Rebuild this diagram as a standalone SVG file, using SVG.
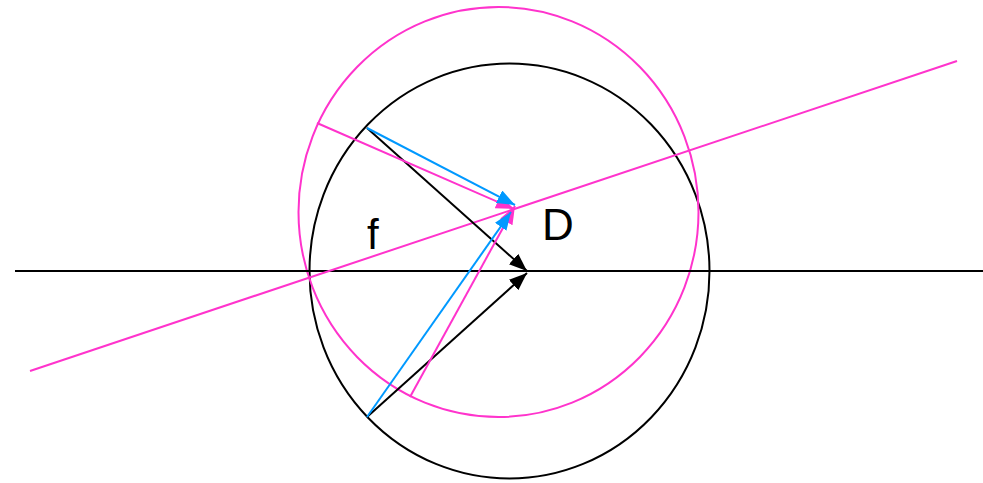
<svg xmlns="http://www.w3.org/2000/svg" width="983" height="483" viewBox="0 0 983 483">
<defs>
<style>
.k{stroke:#000;stroke-width:2;fill:none}
.m{stroke:#ff33cc;stroke-width:2;fill:none}
.b{stroke:#0099ff;stroke-width:2;fill:none}
.t{font-family:"Liberation Sans",Arial,sans-serif;fill:#000}
</style>
<marker id="ak" markerUnits="userSpaceOnUse" markerWidth="20" markerHeight="16" refX="18" refY="7" orient="auto"><path d="M0,0 L18,7 L0,14 z" fill="#000"/></marker>
<marker id="am" markerUnits="userSpaceOnUse" markerWidth="20" markerHeight="16" refX="18" refY="7" orient="auto"><path d="M0,0 L18,7 L0,14 z" fill="#ff33cc"/></marker>
<marker id="ab" markerUnits="userSpaceOnUse" markerWidth="20" markerHeight="16" refX="18" refY="7" orient="auto"><path d="M0,0 L18,7 L0,14 z" fill="#0099ff"/></marker>
</defs>
<g id="circles">
<ellipse id="black-circle" class="k" cx="509.5" cy="271" rx="200" ry="207.5"/>
<ellipse id="magenta-circle" class="m" cx="498.5" cy="212" rx="200" ry="205"/>
</g>
<g id="connectors">
<line class="k" x1="15" y1="271" x2="983" y2="271"/>
<line class="m" x1="30" y1="371" x2="957" y2="61"/>
<line class="k" x1="367" y1="128" x2="527" y2="271" marker-end="url(#ak)"/>
<line class="k" x1="367" y1="417" x2="527" y2="273" marker-end="url(#ak)"/>
<line class="m" x1="317" y1="123" x2="514" y2="209" marker-end="url(#am)"/>
<line class="m" x1="410" y1="397" x2="515" y2="206" marker-end="url(#am)"/>
<line class="b" x1="367" y1="128" x2="515" y2="205" marker-end="url(#ab)"/>
<line class="b" x1="367" y1="417" x2="511" y2="212" marker-end="url(#ab)"/>
</g>
<g id="labels">
<text class="t" x="367" y="249" font-size="42">f</text>
<text class="t" x="542" y="240" font-size="44">D</text>
</g>
</svg>
